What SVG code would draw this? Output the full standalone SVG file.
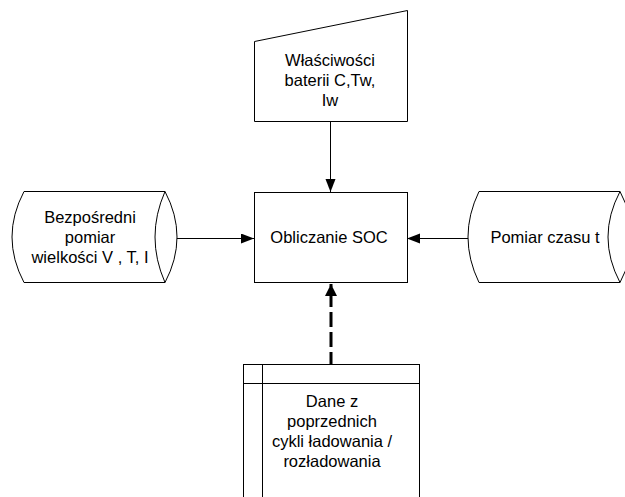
<svg xmlns="http://www.w3.org/2000/svg" width="625" height="497" viewBox="0 0 625 497">
  <style>
    .shape { fill: #ffffff; stroke: #000000; stroke-width: 1; }
    .line { fill: none; stroke: #000000; stroke-width: 1; }
    .conn { fill: none; stroke: #000000; stroke-width: 1; }
    .dash { fill: none; stroke: #000000; stroke-width: 3; stroke-dasharray: 15 5; stroke-dashoffset: 3; }
    text { font-family: "Liberation Sans", Arial, sans-serif; font-size: 16.5px; fill: #000000; text-anchor: middle; }
  </style>
  <defs>
    <marker id="arrow" markerUnits="userSpaceOnUse" markerWidth="14" markerHeight="11" refX="13" refY="5" orient="auto">
      <path d="M0,0 L13,5 L0,10 Z" fill="#000000"/>
    </marker>
    <marker id="arrowBig" markerUnits="userSpaceOnUse" markerWidth="13" markerHeight="13" refX="12" refY="6" orient="auto">
      <path d="M0,0 L12,6 L0,12 Z" fill="#000000"/>
    </marker>
  </defs>
  <rect x="0" y="0" width="625" height="497" fill="#ffffff"/>

  <g id="connectors">
    <path class="conn" d="M330.5,121.5 L330.5,192" marker-end="url(#arrow)"/>
    <path class="conn" d="M177,238.5 L254,238.5" marker-end="url(#arrow)"/>
    <path class="conn" d="M468,238.5 L407,238.5" marker-end="url(#arrow)"/>
    <path class="dash" d="M331,364 L331,284" marker-end="url(#arrowBig)"/>
  </g>

  <g id="node-wlasciwosci">
    <path class="shape" d="M254.5,41.5 L407.5,10.5 L407.5,121.5 L254.5,121.5 Z"/>
    <text x="330" y="66">Właściwości</text>
    <text x="330" y="86">baterii C,Tw,</text>
    <text x="330" y="106">Iw</text>
  </g>

  <g id="node-obliczanie">
    <rect class="shape" x="254.5" y="192.5" width="153" height="90"/>
    <text x="329" y="243">Obliczanie SOC</text>
  </g>

  <g id="node-bezposredni">
    <path class="shape" d="M24,191.5 L165,191.5 Q189,237 165,282.5 L24,282.5 Q0,237 24,191.5 Z"/>
    <path class="line" d="M165,191.5 Q145,237 165,282.5"/>
    <text x="90" y="223">Bezpośredni</text>
    <text x="90" y="243">pomiar</text>
    <text x="90" y="263">wielkości V , T, I</text>
  </g>

  <g id="node-pomiar-czasu">
    <path class="shape" d="M479,191.5 L620,191.5 Q644,237 620,282.5 L479,282.5 Q457,237 479,191.5 Z"/>
    <path class="line" d="M620,191.5 Q596,237 620,282.5"/>
    <text x="545" y="243">Pomiar czasu t</text>
  </g>

  <g id="node-dane">
    <rect class="shape" x="243.5" y="364.5" width="176" height="150"/>
    <path class="line" d="M243.5,383.5 L419.5,383.5 M262.5,364.5 L262.5,514"/>
    <text x="332" y="407">Dane z</text>
    <text x="332" y="427">poprzednich</text>
    <text x="332" y="447">cykli ładowania /</text>
    <text x="332" y="467">rozładowania</text>
  </g>
</svg>
